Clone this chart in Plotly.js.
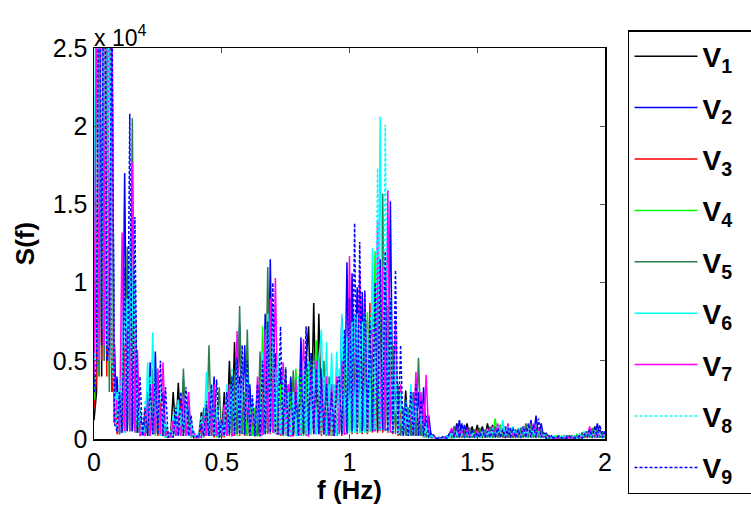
<!DOCTYPE html>
<html>
<head>
<meta charset="utf-8">
<script src="https://cdn.plot.ly/plotly-3.0.1.min.js"></script>
<style>html,body{margin:0;padding:0;background:#fff;}#chart{width:751px;height:509px;}</style>
</head>
<body>
<div id="chart"></div>
<script>
// Frequency axis (Hz)
const freq = [
0.00,0.01,0.02,0.03,0.04,0.05,0.06,0.07,0.08,0.09,
0.10,0.11,0.12,0.13,0.14,0.15,0.16,0.17,0.18,0.19,
0.20,0.21,0.22,0.23,0.24,0.25,0.26,0.27,0.28,0.29,
0.30,0.31,0.32,0.33,0.34,0.35,0.36,0.37,0.38,0.39,
0.40,0.41,0.42,0.43,0.44,0.45,0.46,0.47,0.48,0.49,
0.50,0.51,0.52,0.53,0.54,0.55,0.56,0.57,0.58,0.59,
0.60,0.61,0.62,0.63,0.64,0.65,0.66,0.67,0.68,0.69,
0.70,0.71,0.72,0.73,0.74,0.75,0.76,0.77,0.78,0.79,
0.80,0.81,0.82,0.83,0.84,0.85,0.86,0.87,0.88,0.89,
0.90,0.91,0.92,0.93,0.94,0.95,0.96,0.97,0.98,0.99,
1.00,1.01,1.02,1.03,1.04,1.05,1.06,1.07,1.08,1.09,
1.10,1.11,1.12,1.13,1.14,1.15,1.16,1.17,1.18,1.19,
1.20,1.21,1.22,1.23,1.24,1.25,1.26,1.27,1.28,1.29,
1.30,1.31,1.32,1.33,1.34,1.35,1.36,1.37,1.38,1.39,
1.40,1.41,1.42,1.43,1.44,1.45,1.46,1.47,1.48,1.49,
1.50,1.51,1.52,1.53,1.54,1.55,1.56,1.57,1.58,1.59,
1.60,1.61,1.62,1.63,1.64,1.65,1.66,1.67,1.68,1.69,
1.70,1.71,1.72,1.73,1.74,1.75,1.76,1.77,1.78,1.79,
1.80,1.81,1.82,1.83,1.84,1.85,1.86,1.87,1.88,1.89,
1.90,1.91,1.92,1.93,1.94,1.95,1.96,1.97,1.98,1.99,
2.00];

// S(f) values in units of 10^4 (one row per frequency band)
const V1 = [
0.12,0.3,3.6,0.4,4.2,0.5,3.8,0.3,0.6,0.05,0.2,
0.05,0.5,0.06,0.8,0.07,0.6,0.04,0.2,
0.02,0.15,0.03,0.3,0.04,0.35,0.03,0.25,0.02,0.08,0.01,
0.02,0.3,0.03,0.36,0.04,0.25,0.03,0.1,0.02,0.03,0.01,
0.01,0.17,0.02,0.25,0.03,0.15,0.02,0.08,0.01,
0.03,0.3,0.03,0.5,0.04,0.62,0.04,0.4,0.03,0.3,0.02,0.15,0.02,
0.15,0.02,0.25,0.03,0.4,0.04,0.5,0.04,0.35,0.03,
0.3,0.02,0.35,0.03,0.3,0.02,0.25,0.03,
0.35,0.03,0.5,0.72,0.05,0.87,0.06,0.8,0.05,0.4,0.03,0.35,0.02,0.3,0.02,
0.3,0.03,0.5,0.04,0.55,0.05,0.6,0.05,0.55,0.04,0.45,0.04,0.55,
0.05,0.8,0.06,0.9,0.05,0.85,0.05,0.7,0.04,0.4,0.03,
0.26,0.02,0.31,0.02,0.15,0.02,0.15,0.02,0.1,0.01,0.05,0.01,0.02,
0.01,0.005,0.01,0.005,0.01,0.005,0.03,
0.06,0.01,0.1,0.01,0.09,0.01,0.1,0.01,0.08,0.01,
0.09,0.01,0.08,0.01,0.1,0.01,0.09,0.01,0.06,0.01,
0.04,0.01,0.05,0.01,0.04,0.01,0.04,0.01,0.05,0.01,
0.04,0.01,0.06,0.01,0.07,0.01,0.04,0.005,0.02,0.005,
0.01,0.005,0.015,0.005,0.02,0.005,0.01,0.005,0.015,0.005,
0.02,0.005,0.04,0.01,0.05,0.01,0.08,0.01,0.06,0.01,0.03];

const V2 = [
0.3,3.2,0.5,4.5,0.6,4.0,0.5,2.6,0.2,0.4,0.05,
0.05,1.7,0.06,1.2,0.05,0.9,0.04,0.15,
0.02,0.1,0.03,0.49,0.03,0.56,0.03,0.2,0.3,0.02,0.05,
0.01,0.1,0.02,0.25,0.03,0.38,0.03,0.2,0.02,0.05,0.01,
0.02,0.01,0.2,0.02,0.3,0.02,0.4,0.02,0.1,
0.02,0.2,0.03,0.3,0.03,0.35,0.04,0.73,0.04,0.6,0.03,0.35,0.02,
0.2,0.02,0.35,0.03,0.8,0.04,1.15,0.05,0.55,0.03,
0.45,0.03,0.3,0.02,0.4,0.02,0.35,0.03,
0.65,0.04,0.5,0.04,0.55,0.04,0.5,0.04,0.45,0.03,0.4,0.03,0.35,0.03,0.46,
0.04,0.78,0.05,1.13,0.06,1.06,0.06,0.97,0.05,0.94,0.05,0.76,0.05,
0.7,0.05,0.8,0.06,0.9,0.06,0.06,1.52,0.05,0.5,0.03,
0.03,0.2,0.02,0.2,0.02,0.3,0.02,0.3,0.02,0.33,0.02,0.15,0.01,
0.01,0.005,0.01,0.005,0.01,0.005,0.02,
0.01,0.08,0.01,0.12,0.01,0.09,0.01,0.07,0.01,0.06,
0.01,0.06,0.01,0.05,0.01,0.07,0.01,0.08,0.01,0.09,
0.01,0.08,0.01,0.07,0.01,0.06,0.01,0.07,0.01,0.08,
0.01,0.12,0.01,0.15,0.01,0.1,0.01,0.04,0.005,0.02,
0.005,0.02,0.005,0.015,0.005,0.02,0.005,0.015,0.005,0.02,
0.005,0.04,0.01,0.05,0.01,0.06,0.01,0.1,0.01,0.05,0.01];

const V3 = [
0.2,0.4,3.9,0.5,4.1,0.4,3.5,0.3,0.5,0.03,0.2,
0.04,0.6,0.05,0.9,0.05,1.0,0.04,0.1,
0.02,0.2,0.02,0.3,0.03,0.3,0.02,0.25,0.02,0.05,0.01,
0.04,0.01,0.15,0.02,0.25,0.02,0.15,0.02,0.05,0.01,0.01,
0.01,0.08,0.01,0.2,0.02,0.2,0.01,0.08,0.01,
0.08,0.01,0.24,0.02,0.3,0.02,0.35,0.02,0.25,0.02,0.2,0.02,0.1,
0.02,0.25,0.02,0.4,0.03,0.6,0.03,0.5,0.03,0.3,
0.02,0.25,0.02,0.3,0.02,0.25,0.02,0.35,
0.02,0.35,0.02,0.45,0.03,0.5,0.03,0.4,0.02,0.3,0.02,0.3,0.02,0.3,0.02,
0.3,0.02,0.5,0.03,0.6,0.03,0.65,0.03,0.7,0.03,0.65,0.03,0.87,
0.04,0.8,0.04,0.9,0.04,0.95,0.04,0.75,0.03,0.4,0.02,
0.2,0.02,0.2,0.02,0.2,0.02,0.2,0.02,0.12,0.01,0.05,0.01,0.02,
0.01,0.005,0.005,0.005,0.01,0.005,0.02,
0.04,0.01,0.03,0.01,0.04,0.01,0.03,0.01,0.06,0.01,
0.06,0.01,0.05,0.01,0.05,0.01,0.06,0.01,0.04,0.01,
0.05,0.01,0.03,0.01,0.03,0.01,0.03,0.01,0.05,0.01,
0.04,0.01,0.04,0.01,0.03,0.01,0.02,0.005,0.01,0.005,
0.01,0.005,0.02,0.005,0.01,0.005,0.02,0.005,0.01,0.005,
0.02,0.005,0.02,0.01,0.03,0.01,0.04,0.01,0.04,0.01,0.02];

const V4 = [
0.25,3.0,0.4,4.3,0.5,3.7,0.4,2.2,0.1,0.2,0.03,
0.6,0.04,1.0,0.05,0.8,0.05,0.2,0.02,
0.1,0.02,0.15,0.02,0.3,0.02,0.3,0.02,0.12,0.01,0.03,
0.01,0.15,0.02,0.15,0.02,0.2,0.02,0.1,0.01,0.03,0.01,
0.02,0.01,0.12,0.02,0.2,0.02,0.15,0.01,0.06,
0.01,0.2,0.02,0.25,0.02,0.3,0.02,0.35,0.03,0.3,0.02,0.2,0.02,
0.2,0.02,0.03,0.72,0.04,0.05,0.6,0.04,0.45,0.03,
0.35,0.02,0.35,0.02,0.3,0.02,0.45,0.03,
0.4,0.02,0.45,0.03,0.5,0.03,0.63,0.04,0.4,0.03,0.35,0.02,0.35,0.02,0.35,
0.03,0.45,0.03,0.5,0.04,0.6,0.04,0.65,0.04,0.7,0.05,0.81,0.05,
0.06,1.2,0.06,1.0,0.06,1.05,0.05,0.7,0.04,0.45,0.03,
0.25,0.02,0.2,0.02,0.2,0.02,0.25,0.02,0.15,0.01,0.06,0.01,0.02,
0.01,0.005,0.01,0.005,0.005,0.005,0.03,
0.01,0.05,0.01,0.06,0.01,0.04,0.01,0.05,0.01,0.05,
0.01,0.03,0.01,0.04,0.01,0.05,0.01,0.13,0.01,0.09,
0.01,0.05,0.01,0.04,0.01,0.03,0.01,0.05,0.01,0.05,
0.01,0.06,0.01,0.06,0.01,0.05,0.01,0.02,0.005,0.01,
0.005,0.02,0.005,0.02,0.005,0.01,0.005,0.02,0.005,0.03,
0.005,0.03,0.01,0.04,0.01,0.04,0.01,0.04,0.01,0.04,0.01];

const V5 = [
0.35,1.2,0.4,4.0,0.5,3.1,0.3,2.07,0.1,0.2,0.03,
0.3,0.04,1.23,0.05,2.05,0.04,0.35,0.02,
0.05,0.02,0.3,0.02,0.45,0.03,0.35,0.02,0.15,0.01,0.04,
0.01,0.1,0.02,0.25,0.02,0.45,0.02,0.15,0.01,0.03,0.01,
0.03,0.01,0.2,0.02,0.6,0.02,0.3,0.02,0.33,
0.02,0.2,0.02,0.35,0.03,0.4,0.03,0.85,0.04,0.03,0.7,0.03,0.2,
0.02,0.03,0.56,0.03,0.04,1.1,0.05,0.8,0.04,0.4,
0.03,0.03,0.46,0.02,0.02,0.44,0.02,0.35,
0.02,0.45,0.02,0.5,0.03,0.55,0.03,0.5,0.03,0.5,0.02,0.4,0.02,0.35,0.02,
0.35,0.03,0.45,0.03,0.55,0.04,0.6,0.04,0.65,0.04,0.6,0.04,0.75,
0.8,0.05,1.0,0.05,1.57,0.05,0.85,0.04,0.6,0.03,0.35,
0.02,0.2,0.02,0.2,0.02,0.3,0.02,0.52,0.02,0.2,0.01,0.05,0.01,
0.02,0.005,0.01,0.005,0.01,0.005,0.02,
0.01,0.08,0.01,0.07,0.01,0.06,0.01,0.07,0.01,0.06,
0.01,0.07,0.01,0.06,0.01,0.08,0.01,0.07,0.01,0.06,
0.01,0.05,0.01,0.05,0.01,0.06,0.01,0.07,0.01,0.1,
0.01,0.1,0.01,0.08,0.01,0.06,0.01,0.03,0.005,0.01,
0.005,0.01,0.005,0.01,0.005,0.01,0.005,0.02,0.005,0.02,
0.005,0.04,0.01,0.05,0.01,0.07,0.01,0.06,0.01,0.04,0.01];

const V6 = [
1.3,3.5,0.5,4.4,0.6,3.9,0.5,2.8,0.2,0.3,0.04,
0.82,0.04,0.9,0.05,1.1,0.05,0.3,0.02,
0.1,0.02,0.49,0.03,0.68,0.03,0.35,0.02,0.15,0.01,0.04,
0.01,0.15,0.02,0.25,0.02,0.28,0.02,0.3,0.01,0.05,0.01,
0.04,0.01,0.02,0.43,0.02,0.35,0.02,0.2,0.01,
0.12,0.02,0.3,0.03,0.35,0.03,0.4,0.03,0.35,0.03,0.4,0.02,0.25,
0.02,0.35,0.02,0.55,0.03,0.8,0.04,0.85,0.04,0.5,
0.03,0.35,0.02,0.35,0.02,0.3,0.02,0.35,
0.02,0.35,0.02,0.4,0.03,0.45,0.03,0.5,0.7,0.03,0.62,0.03,0.55,0.03,0.56,
0.03,0.8,0.04,0.65,0.04,0.75,0.04,0.8,0.04,0.75,0.04,0.7,0.05,
1.22,0.06,0.07,2.06,0.06,1.1,0.05,0.8,0.04,0.5,0.03,
0.3,0.02,0.25,0.02,0.35,0.02,0.3,0.02,0.2,0.01,0.08,0.01,0.02,
0.01,0.005,0.005,0.01,0.005,0.02,0.005,
0.04,0.01,0.05,0.01,0.07,0.01,0.05,0.01,0.03,0.01,
0.03,0.01,0.04,0.01,0.04,0.01,0.05,0.01,0.09,0.01,
0.12,0.01,0.09,0.01,0.08,0.01,0.07,0.01,0.06,0.01,
0.06,0.01,0.05,0.01,0.06,0.01,0.03,0.005,0.02,0.005,
0.01,0.005,0.02,0.005,0.02,0.005,0.01,0.005,0.02,0.005,
0.03,0.005,0.04,0.01,0.05,0.01,0.06,0.01,0.04,0.01,0.03];

const V7 = [
0.4,2.9,0.5,4.6,0.6,4.3,0.5,2.7,0.1,0.25,0.03,
1.32,0.05,0.7,0.05,1.77,0.05,0.57,0.02,
0.05,0.02,0.25,0.02,0.35,0.03,0.45,0.03,0.49,0.02,0.05,
0.01,0.12,0.02,0.15,0.02,0.28,0.02,0.3,0.02,0.04,0.01,
0.02,0.01,0.15,0.02,0.3,0.02,0.35,0.02,0.12,
0.01,0.22,0.02,0.35,0.02,0.03,0.69,0.03,0.5,0.03,0.35,0.02,0.2,
0.02,0.4,0.02,0.03,0.7,0.03,0.9,0.04,1.03,0.04,
0.03,0.49,0.03,0.35,0.02,0.02,0.38,0.03,
0.03,0.64,0.03,0.02,0.45,0.03,0.5,0.03,0.4,0.03,0.4,0.02,0.35,0.02,0.4,
0.03,0.5,0.03,0.04,1.17,0.05,0.8,0.05,1.08,0.05,0.94,0.05,0.64,
0.7,0.05,1.4,0.06,1.1,0.06,1.59,0.05,0.04,0.76,0.03,
0.35,0.02,0.2,0.02,0.2,0.02,0.43,0.02,0.3,0.02,0.41,0.02,0.03,
0.02,0.005,0.01,0.005,0.01,0.005,0.03,
0.07,0.01,0.08,0.01,0.06,0.01,0.07,0.01,0.05,0.01,
0.05,0.01,0.06,0.01,0.07,0.01,0.08,0.01,0.1,0.01,
0.07,0.01,0.1,0.01,0.04,0.01,0.06,0.01,0.07,0.01,
0.08,0.01,0.1,0.01,0.07,0.01,0.03,0.005,0.02,0.005,
0.01,0.005,0.01,0.005,0.01,0.005,0.01,0.005,0.02,0.005,
0.02,0.005,0.05,0.01,0.08,0.01,0.05,0.01,0.05,0.01,0.04];

const V8 = [
0.5,0.6,4.1,0.7,3.8,0.6,3.3,0.5,0.3,0.05,0.4,
0.04,0.9,0.05,1.3,0.05,1.0,0.04,0.2,
0.02,0.25,0.02,0.4,0.03,0.45,0.03,0.35,0.02,0.12,0.01,
0.05,0.01,0.22,0.02,0.2,0.02,0.22,0.02,0.12,0.01,0.03,
0.01,0.15,0.02,0.3,0.02,0.3,0.02,0.2,0.01,
0.1,0.02,0.35,0.03,0.45,0.03,0.5,0.03,0.5,0.03,0.45,0.02,0.25,
0.02,0.3,0.02,0.5,0.03,0.7,0.04,0.7,0.03,0.55,
0.03,0.4,0.02,0.3,0.02,0.3,0.02,0.4,
0.03,0.5,0.03,0.5,0.03,0.5,0.03,0.45,0.03,0.4,0.03,0.35,0.02,0.35,0.02,
0.45,0.03,0.6,0.04,0.75,0.04,0.8,0.04,0.75,0.04,0.8,0.04,0.7,
0.9,0.06,1.73,0.06,0.07,2.01,0.06,0.9,0.05,0.55,0.03,
0.3,0.02,0.2,0.02,0.25,0.02,0.25,0.02,0.2,0.01,0.1,0.01,0.03,
0.01,0.005,0.01,0.005,0.01,0.005,0.03,
0.03,0.01,0.04,0.01,0.03,0.01,0.04,0.01,0.05,0.01,
0.04,0.01,0.05,0.01,0.06,0.01,0.07,0.01,0.08,0.01,
0.09,0.01,0.08,0.01,0.07,0.01,0.06,0.01,0.07,0.01,
0.07,0.01,0.08,0.01,0.05,0.01,0.03,0.005,0.02,0.005,
0.02,0.005,0.02,0.005,0.01,0.005,0.02,0.005,0.02,0.005,
0.03,0.005,0.05,0.01,0.05,0.01,0.05,0.01,0.05,0.01,0.03];

const V9 = [
0.3,0.5,4.0,0.6,4.4,0.5,0.6,3.0,0.1,0.05,0.3,
0.04,1.1,0.05,2.08,0.05,1.42,0.04,0.4,
0.02,0.2,0.02,0.35,0.03,0.45,0.03,0.5,0.02,0.33,0.01,
0.04,0.01,0.2,0.02,0.3,0.02,0.33,0.02,0.15,0.01,0.02,
0.01,0.1,0.02,0.22,0.02,0.35,0.02,0.38,0.01,
0.12,0.02,0.3,0.03,0.4,0.03,0.52,0.03,0.6,0.03,0.5,0.02,0.28,
0.02,0.35,0.02,0.5,0.03,0.75,0.04,1.0,0.04,0.03,
0.72,0.03,0.45,0.02,0.38,0.02,0.3,0.02,
0.5,0.03,0.72,0.03,0.55,0.03,0.45,0.03,0.4,0.03,0.35,0.03,0.3,0.02,0.35,
0.4,0.03,0.7,0.04,0.9,0.05,1.38,0.05,1.26,0.05,0.95,0.05,0.75,
0.05,1.0,0.05,1.15,0.06,1.2,0.05,0.9,0.04,1.08,0.04,
0.6,0.02,0.25,0.02,0.3,0.02,0.35,0.02,0.25,0.02,0.15,0.01,0.04,
0.02,0.005,0.005,0.01,0.02,0.005,0.03,
0.05,0.01,0.09,0.01,0.1,0.01,0.07,0.01,0.06,0.01,
0.04,0.01,0.06,0.01,0.05,0.01,0.06,0.01,0.07,0.01,
0.06,0.01,0.07,0.01,0.07,0.01,0.06,0.01,0.08,0.01,
0.1,0.01,0.09,0.01,0.13,0.01,0.04,0.005,0.02,0.005,
0.01,0.005,0.02,0.005,0.01,0.005,0.02,0.005,0.01,0.005,
0.02,0.005,0.03,0.01,0.06,0.01,0.07,0.01,0.09,0.01,0.05];

const seriesNames = ['V<sub>1</sub>','V<sub>2</sub>','V<sub>3</sub>','V<sub>4</sub>','V<sub>5</sub>','V<sub>6</sub>','V<sub>7</sub>','V<sub>8</sub>','V<sub>9</sub>'];
const seriesData = [V1, V2, V3, V4, V5, V6, V7, V8, V9];
const seriesColors = ['#000000','#0000ff','#ff0000','#00ff00','#2e7d4f','#00ffff','#ff00ff','#00ffff','#0000ff'];
const seriesDash = ['solid','solid','solid','solid','solid','solid','solid','3px,2px','3px,2px'];

const yTicks = [0, 0.5, 1, 1.5, 2, 2.5];
const yTickText = ['0','0.5','1','1.5','2','2.5'];
const xTicks = [0, 0.5, 1, 1.5, 2];
const xTickText = ['0','0.5','1','1.5','2'];

const FONT = 'Liberation Sans, Arial, Helvetica, sans-serif';

const traces = seriesData.map((ys, k) => ({
  x: freq,
  y: ys,
  type: 'scatter',
  mode: 'lines',
  name: '<b>' + seriesNames[k] + '</b>&nbsp;&nbsp;&nbsp;&nbsp;&nbsp;&nbsp;',
  legendgroup: 'g' + k,
  line: {color: seriesColors[k], width: 1.5, dash: seriesDash[k]},
  hoverinfo: 'skip'
}));

const layout = {
  width: 751,
  height: 509,
  margin: {l: 94, r: 146, t: 48, b: 70, pad: 0, autoexpand: false},
  paper_bgcolor: '#ffffff',
  plot_bgcolor: '#ffffff',
  font: {family: FONT, color: '#000000', size: 20},
  showlegend: true,
  xaxis: {
    range: [0, 2],
    tickvals: xTicks,
    ticktext: xTickText,
    ticks: 'inside',
    ticklen: 5,
    tickcolor: '#555',
    mirror: 'ticks',
    showline: true,
    linecolor: '#000',
    linewidth: 1.5,
    showgrid: false,
    zeroline: false,
    tickfont: {family: FONT, size: 25, color: '#000'},
    title: {text: '<b>f (Hz)</b>', font: {family: FONT, size: 26, color: '#000'}, standoff: 6}
  },
  yaxis: {
    range: [0, 2.5],
    tickvals: yTicks,
    ticktext: yTickText,
    ticks: 'inside',
    ticklen: 5,
    tickcolor: '#555',
    mirror: 'ticks',
    showline: true,
    linecolor: '#000',
    linewidth: 1.5,
    showgrid: false,
    zeroline: false,
    tickfont: {family: FONT, size: 25, color: '#000'},
    title: {text: '<b>S(f)</b>', font: {family: FONT, size: 26, color: '#000'}, standoff: 10}
  },
  legend: {
    x: 1.045, y: 1.046, xanchor: 'left', yanchor: 'top',
    bordercolor: '#000', borderwidth: 1.5, bgcolor: '#fff',
    font: {family: FONT, size: 28, color: '#000'},
    tracegroupgap: 12,
    traceorder: 'grouped',
    itemwidth: 63,
    maxheight: 490
  },
  annotations: [{
    xref: 'paper', yref: 'paper', x: 0, y: 1, xanchor: 'left', yanchor: 'bottom',
    text: 'x 10<sup>4</sup>', showarrow: false,
    font: {family: FONT, size: 23, color: '#000'}, yshift: -5, xshift: -2
  }]
};

Plotly.newPlot('chart', traces, layout, {displayModeBar: false, staticPlot: true});
</script>
</body>
</html>
